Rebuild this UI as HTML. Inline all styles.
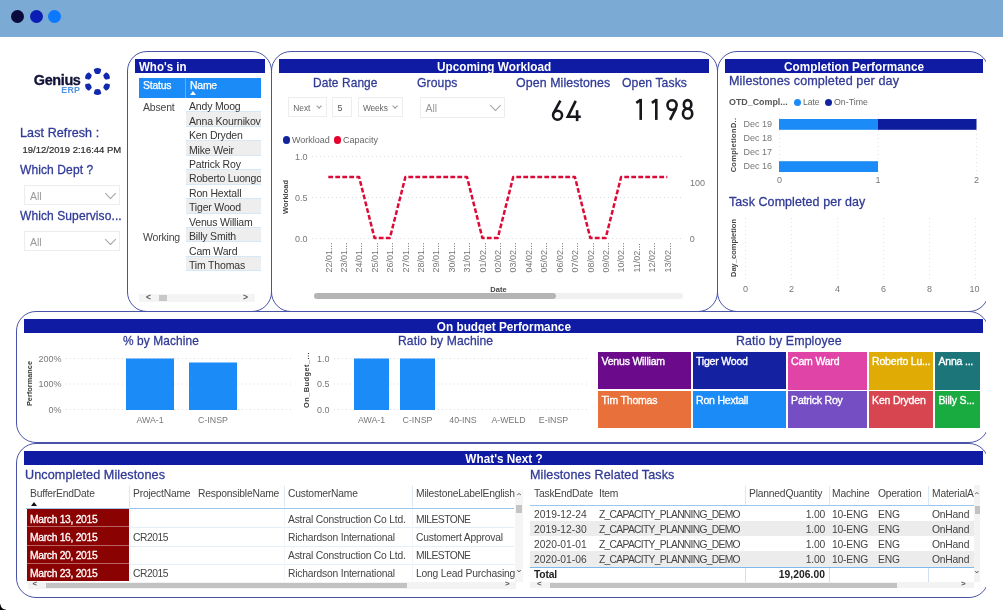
<!DOCTYPE html>
<html>
<head>
<meta charset="utf-8">
<title>Genius ERP Dashboard</title>
<style>
*{box-sizing:border-box;margin:0;padding:0}
html,body{width:1003px;height:610px;overflow:hidden;background:#fff}
body{font-family:"Liberation Sans",sans-serif;position:relative;color:#333}
.abs{position:absolute}
.t{position:absolute;white-space:nowrap;line-height:1}
#topbar{left:0;top:0;width:1003px;height:36.5px;background:#7baad4}
.dot{position:absolute;width:13px;height:13px;border-radius:50%;top:10px}
#clip{left:0;top:36px;width:986.3px;height:574px;overflow:hidden}
.panel{position:absolute;border:1.5px solid #4853a8;border-radius:20px;background:transparent}
.bar{position:absolute;background:#0e1ba2;height:14.4px;color:#fff;font-weight:bold;font-size:12.8px;line-height:16.4px;text-align:center;white-space:nowrap;overflow:hidden}
.bar span{display:inline-block;transform:scaleX(.92);transform-origin:50% 50%}
.h{position:absolute;white-space:nowrap;line-height:1;color:#303a96;font-size:13.4px;letter-spacing:.1px;-webkit-text-stroke:.3px #303a96;transform:scaleX(.9);transform-origin:0 0}
.sel{position:absolute;border:1px solid #ededed;background:#fff}
.sel span{position:absolute;left:6px;top:5.5px;font-size:10.5px;color:#999;line-height:1}
.chev{position:absolute;width:7px;height:7px;border-right:1.1px solid #a8a8a8;border-bottom:1.1px solid #a8a8a8;transform:rotate(45deg) scale(1.15,1.15)}
.wr{left:186px;width:75px;height:14.45px;border-bottom:1px solid #d6e7f6}
.wr span{position:absolute;left:3px;top:2.2px;width:72px;height:13px;overflow:hidden;font-size:10.5px;letter-spacing:-.18px;line-height:13px;color:#333;white-space:nowrap}
.num{color:#1a1a1a;transform:scaleX(.86);transform-origin:0 0;letter-spacing:1.2px;-webkit-text-stroke:.35px #1a1a1a}
.chev.s{width:4.2px;height:4.2px;transform:rotate(45deg);border-width:1px;border-color:#999}
.tm{position:absolute;overflow:hidden}
.tm span{position:absolute;left:3.5px;top:4px;font-size:10.5px;line-height:1;color:#fff;white-space:nowrap;letter-spacing:-.2px;-webkit-text-stroke:.35px #fff}
.c{font-size:10.3px;color:#444;letter-spacing:-.2px}
</style>
</head>
<body>
<div id="topbar" class="abs">
  <div class="dot" style="left:11px;background:#0a0a3c"></div>
  <div class="dot" style="left:30px;background:#0a1eb4"></div>
  <div class="dot" style="left:48px;background:#0a78ff"></div>
</div>

<!-- SIDEBAR -->
<div id="sidebar" style="will-change:transform">
  <div class="t" style="left:33.8px;top:72.7px;font-size:14.4px;font-weight:bold;color:#12123a;letter-spacing:-.35px;-webkit-text-stroke:.35px #12123a">Genius</div>
  <div class="t" style="left:61.3px;top:86px;font-size:8.8px;font-weight:bold;color:#4f93e4;letter-spacing:.3px">ERP</div>
  <svg class="abs" style="left:83.9px;top:67.6px" width="27" height="27" viewBox="-13.5 -13.5 27 27">
    <g fill="#1129ae" stroke="#1129ae" stroke-width="1.9" stroke-linejoin="round">
      <path d="M-2.7 -11.6 Q0 -13.4 2.7 -11.6 L1.9 -8.9 Q0 -7.9 -1.9 -8.9 Z"/>
      <path d="M-2.7 -11.6 Q0 -13.4 2.7 -11.6 L1.9 -8.9 Q0 -7.9 -1.9 -8.9 Z" transform="rotate(60)"/>
      <path d="M-2.7 -11.6 Q0 -13.4 2.7 -11.6 L1.9 -8.9 Q0 -7.9 -1.9 -8.9 Z" transform="rotate(120)"/>
      <path d="M-2.7 -11.6 Q0 -13.4 2.7 -11.6 L1.9 -8.9 Q0 -7.9 -1.9 -8.9 Z" transform="rotate(180)"/>
      <path d="M-2.7 -11.6 Q0 -13.4 2.7 -11.6 L1.9 -8.9 Q0 -7.9 -1.9 -8.9 Z" transform="rotate(240)"/>
      <path d="M-2.7 -11.6 Q0 -13.4 2.7 -11.6 L1.9 -8.9 Q0 -7.9 -1.9 -8.9 Z" transform="rotate(300)"/>
    </g>
  </svg>
  <div class="h" style="left:20px;top:126px;transform:scaleX(0.936)">Last Refresh :</div>
  <div class="t" style="left:22.5px;top:144.8px;font-size:9.5px;color:#2c2c2c;-webkit-text-stroke:.2px #2c2c2c">19/12/2019 2:16:44 PM</div>
  <div class="h" style="left:20px;top:163px;transform:scaleX(0.899)">Which Dept ?</div>
  <div class="sel" style="left:24px;top:184.5px;width:95.5px;height:20.5px"><span style="left:5px">All</span><div class="chev" style="left:82px;top:4px"></div></div>
  <div class="h" style="left:20px;top:209px;transform:scaleX(0.897)">Which Superviso...</div>
  <div class="sel" style="left:24px;top:230.5px;width:95.5px;height:20.5px"><span style="left:5px">All</span><div class="chev" style="left:82px;top:4px"></div></div>
</div>

<div class="abs" style="left:0;top:604px;width:6px;height:6px;background:radial-gradient(circle at 100% 0,transparent 5.2px,#000 6px)"></div>
<div id="clip" class="abs">
<div id="inner" class="abs" style="left:0;top:-36px;width:1003px;height:610px;will-change:transform">
  <!-- PANELS -->
  <div class="panel" style="left:126.8px;top:51px;width:145.2px;height:260.5px"></div>
  <div class="panel" style="left:271.2px;top:51px;width:446.5px;height:260.5px"></div>
  <div class="panel" style="left:717px;top:51px;width:272px;height:260.5px"></div>
  <div class="panel" style="left:16px;top:311px;width:973px;height:132px"></div>
  <div class="panel" style="left:16px;top:443.3px;width:973px;height:154.5px"></div>

  <div class="bar" style="left:135px;top:59px;width:129.5px;text-align:left;padding-left:4px"><span style="transform-origin:0 50%;transform:scaleX(.9)">Who's in</span></div>
  <div class="bar" style="left:279px;top:59px;width:430px"><span>Upcoming Workload</span></div>
  <div class="bar" style="left:725px;top:59px;width:258.2px"><span>Completion Performance</span></div>
  <div class="bar" style="left:24px;top:318.5px;width:959.2px"><span>On budget Performance</span></div>
  <div class="bar" style="left:24px;top:451px;width:959.2px"><span>What's Next ?</span></div>

<div id="whosin">
<div class="abs" style="left:139px;top:78px;width:122px;height:19.5px;background:#1b8cf7"></div>
<div class="abs" style="left:185px;top:78px;width:1px;height:19.5px;background:#5fb0ff"></div>
<div class="t" style="left:143px;top:80.5px;font-size:10.4px;color:#fff;letter-spacing:-.2px;-webkit-text-stroke:.25px #fff">Status</div>
<div class="t" style="left:190px;top:80.5px;font-size:10.4px;color:#fff;letter-spacing:-.2px;-webkit-text-stroke:.25px #fff">Name</div>
<div class="abs" style="left:190px;top:91px;width:0;height:0;border-left:3.5px solid transparent;border-right:3.5px solid transparent;border-bottom:4px solid #fff"></div>
<div class="abs wr" style="top:98.00px;background:#fff"><span>Andy Moog</span></div>
<div class="abs wr" style="top:112.45px;background:#eeeeee"><span>Anna Kournikov</span></div>
<div class="abs wr" style="top:126.90px;background:#fff"><span>Ken Dryden</span></div>
<div class="abs wr" style="top:141.35px;background:#eeeeee"><span>Mike Weir</span></div>
<div class="abs wr" style="top:155.80px;background:#fff"><span>Patrick Roy</span></div>
<div class="abs wr" style="top:170.25px;background:#eeeeee"><span>Roberto Luongo</span></div>
<div class="abs wr" style="top:184.70px;background:#fff"><span>Ron Hextall</span></div>
<div class="abs wr" style="top:199.15px;background:#eeeeee"><span>Tiger Wood</span></div>
<div class="abs wr" style="top:213.60px;background:#fff"><span>Venus William</span></div>
<div class="abs wr" style="top:228.05px;background:#eeeeee"><span>Billy Smith</span></div>
<div class="abs wr" style="top:242.50px;background:#fff"><span>Cam Ward</span></div>
<div class="abs wr" style="top:256.95px;background:#eeeeee"><span>Tim Thomas</span></div>
<div class="t" style="left:143px;top:102px;font-size:10.5px;color:#444;letter-spacing:-.2px">Absent</div>
<div class="t" style="left:143px;top:232.0px;font-size:10.5px;color:#444;letter-spacing:-.2px">Working</div>
<div class="abs" style="left:139px;top:294.2px;width:116px;height:7.5px;background:#f4f4f4"></div>
<div class="abs" style="left:159.3px;top:295px;width:7.6px;height:6px;background:#c8c8c8"></div>
<div class="t" style="left:146px;top:293.3px;font-size:8.5px;color:#555;font-weight:bold">&lt;</div>
<div class="t" style="left:243px;top:293.3px;font-size:8.5px;color:#555;font-weight:bold">&gt;</div>
</div>
<div id="workload">
<div class="h" style="left:313px;top:76px;transform:scaleX(0.891)">Date Range</div>
<div class="h" style="left:417px;top:76px;transform:scaleX(0.908)">Groups</div>
<div class="h" style="left:516px;top:76px;transform:scaleX(0.924)">Open Milestones</div>
<div class="h" style="left:622px;top:76px;transform:scaleX(0.910)">Open Tasks</div>
<div class="sel" style="left:288px;top:97px;width:39px;height:20px"><span style="left:4.2px;top:5.5px;font-size:8.4px;color:#666">Next</span><div class="chev s" style="left:27.5px;top:5.5px"></div></div>
<div class="sel" style="left:332px;top:97px;width:20px;height:20px"><span style="left:4.5px;top:5.5px;font-size:8.8px;color:#555">5</span></div>
<div class="sel" style="left:358px;top:97px;width:45px;height:20px"><span style="left:4px;top:5.5px;font-size:8.4px;color:#666;letter-spacing:-.15px">Weeks</span><div class="chev s" style="left:33.5px;top:5.5px"></div></div>
<div class="sel" style="left:420px;top:97px;width:85px;height:21px"><span style="left:4.5px;top:5px">All</span><div class="chev" style="left:71px;top:4px"></div></div>
<svg class="abs" style="left:0;top:0" width="1003" height="610" viewBox="0 0 1003 610" fill="none" stroke="#17171c" stroke-width="2.6">
<!-- 64 -->
<circle cx="557.55" cy="115.25" r="4.5"/>
<path d="M560.4 100.6 L553.55 113.2"/>
<path d="M575.7 100.9 L567.8 116.8 L580.8 116.8" stroke-linejoin="miter"/>
<path d="M577.1 110.2 L577.1 121.1"/>
<!-- 1198 -->
<path d="M636.3 102.8 L640.7 99.9"/><path d="M640.7 98.9 L640.7 119.9"/>
<path d="M651.9 102.8 L656.3 99.9"/><path d="M656.3 98.9 L656.3 119.9"/>
<ellipse cx="672.05" cy="105.1" rx="4.6" ry="4.85"/>
<path d="M676.25 107.9 L670.1 119.9"/>
<ellipse cx="687.6" cy="104.45" rx="3.75" ry="4.3"/>
<ellipse cx="687.6" cy="113.65" rx="4.65" ry="4.9"/>
</svg>
<div class="abs" style="left:282.5px;top:136px;width:7.8px;height:7.8px;border-radius:50%;background:#12239e"></div>
<div class="t" style="left:292px;top:136px;font-size:9px;color:#666">Workload</div>
<div class="abs" style="left:333.5px;top:136px;width:7.8px;height:7.8px;border-radius:50%;background:#e6002e"></div>
<div class="t" style="left:343px;top:136px;font-size:9px;color:#666">Capacity</div>
<svg class="abs" style="left:0;top:0" width="1003" height="610" viewBox="0 0 1003 610">
<line x1="312" y1="156.5" x2="682" y2="156.5" stroke="#dcdcdc" stroke-width="1" stroke-dasharray="1 3"/>
<line x1="312" y1="197.5" x2="682" y2="197.5" stroke="#dcdcdc" stroke-width="1" stroke-dasharray="1 3"/>
<line x1="312" y1="238.5" x2="682" y2="238.5" stroke="#dcdcdc" stroke-width="1" stroke-dasharray="1 3"/>
<polyline points="328.3,177 343.7,177 359.1,177 374.5,238 389.9,238 405.4,177 420.8,177 436.2,177 451.6,177 467.0,177 482.4,238 497.8,238 513.2,177 528.6,177 544.0,177 559.5,177 574.9,177 590.3,238 605.7,238 621.1,177 636.5,177 651.9,177 667.3,177" fill="none" stroke="#dc0a37" stroke-width="2.5" stroke-dasharray="4.8 2.2" stroke-linejoin="round"/>
<text transform="translate(331.5,272.6) rotate(-90)" font-size="9" fill="#777" font-family="Liberation Sans">22/01...</text>
<text transform="translate(346.9,272.6) rotate(-90)" font-size="9" fill="#777" font-family="Liberation Sans">23/01...</text>
<text transform="translate(362.3,272.6) rotate(-90)" font-size="9" fill="#777" font-family="Liberation Sans">24/01...</text>
<text transform="translate(377.7,272.6) rotate(-90)" font-size="9" fill="#777" font-family="Liberation Sans">25/01...</text>
<text transform="translate(393.1,272.6) rotate(-90)" font-size="9" fill="#777" font-family="Liberation Sans">26/01...</text>
<text transform="translate(408.6,272.6) rotate(-90)" font-size="9" fill="#777" font-family="Liberation Sans">27/01...</text>
<text transform="translate(424.0,272.6) rotate(-90)" font-size="9" fill="#777" font-family="Liberation Sans">28/01...</text>
<text transform="translate(439.4,272.6) rotate(-90)" font-size="9" fill="#777" font-family="Liberation Sans">29/01...</text>
<text transform="translate(454.8,272.6) rotate(-90)" font-size="9" fill="#777" font-family="Liberation Sans">30/01...</text>
<text transform="translate(470.2,272.6) rotate(-90)" font-size="9" fill="#777" font-family="Liberation Sans">31/01...</text>
<text transform="translate(485.6,272.6) rotate(-90)" font-size="9" fill="#777" font-family="Liberation Sans">01/02...</text>
<text transform="translate(501.0,272.6) rotate(-90)" font-size="9" fill="#777" font-family="Liberation Sans">02/02...</text>
<text transform="translate(516.4,272.6) rotate(-90)" font-size="9" fill="#777" font-family="Liberation Sans">03/02...</text>
<text transform="translate(531.8,272.6) rotate(-90)" font-size="9" fill="#777" font-family="Liberation Sans">04/02...</text>
<text transform="translate(547.2,272.6) rotate(-90)" font-size="9" fill="#777" font-family="Liberation Sans">05/02...</text>
<text transform="translate(562.7,272.6) rotate(-90)" font-size="9" fill="#777" font-family="Liberation Sans">06/02...</text>
<text transform="translate(578.1,272.6) rotate(-90)" font-size="9" fill="#777" font-family="Liberation Sans">07/02...</text>
<text transform="translate(593.5,272.6) rotate(-90)" font-size="9" fill="#777" font-family="Liberation Sans">08/02...</text>
<text transform="translate(608.9,272.6) rotate(-90)" font-size="9" fill="#777" font-family="Liberation Sans">09/02...</text>
<text transform="translate(624.3,272.6) rotate(-90)" font-size="9" fill="#777" font-family="Liberation Sans">10/02...</text>
<text transform="translate(639.7,272.6) rotate(-90)" font-size="9" fill="#777" font-family="Liberation Sans">11/02...</text>
<text transform="translate(655.1,272.6) rotate(-90)" font-size="9" fill="#777" font-family="Liberation Sans">12/02...</text>
<text transform="translate(670.5,272.6) rotate(-90)" font-size="9" fill="#777" font-family="Liberation Sans">13/02...</text>
<text transform="translate(288.2,197) rotate(-90)" text-anchor="middle" font-size="7.5" fill="#444" font-family="Liberation Sans" font-weight="bold">Workload</text>
<text x="307.5" y="160" text-anchor="end" font-size="9" fill="#777" font-family="Liberation Sans">1.0</text>
<text x="307.5" y="201" text-anchor="end" font-size="9" fill="#777" font-family="Liberation Sans">0.5</text>
<text x="307.5" y="242" text-anchor="end" font-size="9" fill="#777" font-family="Liberation Sans">0.0</text>
<text x="690" y="186" font-size="9" fill="#777" font-family="Liberation Sans">100</text>
<text x="689.7" y="241.5" font-size="9" fill="#777" font-family="Liberation Sans">0</text>
<text x="498.5" y="291.5" text-anchor="middle" font-size="7.5" fill="#444" font-family="Liberation Sans" font-weight="bold">Date</text>
</svg>
<div class="abs" style="left:314px;top:292.5px;width:369px;height:6px;border-radius:3px;background:#f0f0f0"></div>
<div class="abs" style="left:314px;top:292.5px;width:242px;height:6px;border-radius:3px;background:#b5b5b5"></div>
</div>
<div id="completion">
<div class="h" style="left:729px;top:74px;transform:scaleX(0.941)">Milestones completed per day</div>
<div class="t" style="left:729px;top:98px;font-size:8.9px;color:#555;font-weight:bold">OTD_Compl...</div>
<div class="abs" style="left:794px;top:98.5px;width:7px;height:7px;border-radius:50%;background:#1b8cf7"></div>
<div class="t" style="left:803px;top:98px;font-size:8.5px;color:#666">Late</div>
<div class="abs" style="left:825px;top:98.5px;width:7px;height:7px;border-radius:50%;background:#12239e"></div>
<div class="t" style="left:834px;top:98px;font-size:8.8px;color:#666">On-Time</div>
<svg class="abs" style="left:0;top:0" width="1003" height="610" viewBox="0 0 1003 610">
<line x1="779.5" y1="114" x2="779.5" y2="176" stroke="#e4e4e4" stroke-width="1" stroke-dasharray="1 3"/>
<line x1="878" y1="114" x2="878" y2="176" stroke="#e4e4e4" stroke-width="1" stroke-dasharray="1 3"/>
<line x1="976.5" y1="114" x2="976.5" y2="176" stroke="#e4e4e4" stroke-width="1" stroke-dasharray="1 3"/>
<rect x="779" y="119" width="99" height="10.8" fill="#1b8cf7"/>
<rect x="878" y="119" width="98.5" height="10.8" fill="#0c1c9c"/>
<rect x="779" y="161.2" width="99" height="10.8" fill="#1b8cf7"/>
<text x="772" y="126.7" text-anchor="end" font-size="9" fill="#777" font-family="Liberation Sans">Dec 19</text>
<text x="772" y="140.7" text-anchor="end" font-size="9" fill="#777" font-family="Liberation Sans">Dec 18</text>
<text x="772" y="154.7" text-anchor="end" font-size="9" fill="#777" font-family="Liberation Sans">Dec 17</text>
<text x="772" y="168.7" text-anchor="end" font-size="9" fill="#777" font-family="Liberation Sans">Dec 16</text>
<text x="779.5" y="183.2" text-anchor="middle" font-size="9" fill="#777" font-family="Liberation Sans">0</text>
<text x="878" y="183.2" text-anchor="middle" font-size="9" fill="#777" font-family="Liberation Sans">1</text>
<text x="976.5" y="183.2" text-anchor="middle" font-size="9" fill="#777" font-family="Liberation Sans">2</text>
<text transform="translate(735.8,145) rotate(-90)" text-anchor="middle" font-size="7.5" fill="#444" font-family="Liberation Sans" font-weight="bold" letter-spacing=".3">CompletionD..</text>
<line x1="745.5" y1="218" x2="745.5" y2="280" stroke="#e4e4e4" stroke-width="1" stroke-dasharray="1 3"/>
<line x1="791.5" y1="218" x2="791.5" y2="280" stroke="#e4e4e4" stroke-width="1" stroke-dasharray="1 3"/>
<line x1="837.5" y1="218" x2="837.5" y2="280" stroke="#e4e4e4" stroke-width="1" stroke-dasharray="1 3"/>
<line x1="883.5" y1="218" x2="883.5" y2="280" stroke="#e4e4e4" stroke-width="1" stroke-dasharray="1 3"/>
<line x1="929.5" y1="218" x2="929.5" y2="280" stroke="#e4e4e4" stroke-width="1" stroke-dasharray="1 3"/>
<line x1="975.5" y1="218" x2="975.5" y2="280" stroke="#e4e4e4" stroke-width="1" stroke-dasharray="1 3"/>
<text x="745.5" y="291.7" text-anchor="middle" font-size="9" fill="#777" font-family="Liberation Sans">0</text>
<text x="791.5" y="291.7" text-anchor="middle" font-size="9" fill="#777" font-family="Liberation Sans">2</text>
<text x="837.5" y="291.7" text-anchor="middle" font-size="9" fill="#777" font-family="Liberation Sans">4</text>
<text x="883.5" y="291.7" text-anchor="middle" font-size="9" fill="#777" font-family="Liberation Sans">6</text>
<text x="929.5" y="291.7" text-anchor="middle" font-size="9" fill="#777" font-family="Liberation Sans">8</text>
<text x="974.5" y="291.7" text-anchor="middle" font-size="9" fill="#777" font-family="Liberation Sans">10</text>
<text transform="translate(735.5,248) rotate(-90)" text-anchor="middle" font-size="7.5" fill="#444" font-family="Liberation Sans" font-weight="bold">Day_completion</text>
</svg>
<div class="h" style="left:729px;top:195px;transform:scaleX(0.930)">Task Completed per day</div>
</div>
<div id="budget">
<div class="h" style="left:123px;top:334px;transform:scaleX(0.889)">% by Machine</div>
<div class="h" style="left:398px;top:334px;transform:scaleX(0.906)">Ratio by Machine</div>
<div class="h" style="left:736px;top:334px;transform:scaleX(0.927)">Ratio by Employee</div>
<svg class="abs" style="left:0;top:0" width="1003" height="610" viewBox="0 0 1003 610">
<line x1="66" y1="358.5" x2="294" y2="358.5" stroke="#dcdcdc" stroke-width="1" stroke-dasharray="1 3"/>
<line x1="334" y1="358.5" x2="588" y2="358.5" stroke="#dcdcdc" stroke-width="1" stroke-dasharray="1 3"/>
<line x1="66" y1="384" x2="294" y2="384" stroke="#dcdcdc" stroke-width="1" stroke-dasharray="1 3"/>
<line x1="334" y1="384" x2="588" y2="384" stroke="#dcdcdc" stroke-width="1" stroke-dasharray="1 3"/>
<line x1="66" y1="409.5" x2="294" y2="409.5" stroke="#dcdcdc" stroke-width="1" stroke-dasharray="1 3"/>
<line x1="334" y1="409.5" x2="588" y2="409.5" stroke="#dcdcdc" stroke-width="1" stroke-dasharray="1 3"/>
<rect x="126" y="358.5" width="48" height="51.5" fill="#1b8cf7"/>
<rect x="189" y="362.5" width="48" height="47.5" fill="#1b8cf7"/>
<rect x="354" y="358.5" width="35" height="51.5" fill="#1b8cf7"/>
<rect x="400" y="358.5" width="35" height="51.5" fill="#1b8cf7"/>
<text x="61.5" y="361.5" text-anchor="end" font-size="9" fill="#777" font-family="Liberation Sans">200%</text>
<text x="61.5" y="387" text-anchor="end" font-size="9" fill="#777" font-family="Liberation Sans">100%</text>
<text x="61.5" y="412.5" text-anchor="end" font-size="9" fill="#777" font-family="Liberation Sans">0%</text>
<text x="329.5" y="361.5" text-anchor="end" font-size="9" fill="#777" font-family="Liberation Sans">1.0</text>
<text x="329.5" y="387" text-anchor="end" font-size="9" fill="#777" font-family="Liberation Sans">0.5</text>
<text x="329.5" y="412.5" text-anchor="end" font-size="9" fill="#777" font-family="Liberation Sans">0.0</text>
<text x="150" y="422.5" text-anchor="middle" font-size="8.8" fill="#777" font-family="Liberation Sans">AWA-1</text>
<text x="213" y="422.5" text-anchor="middle" font-size="8.8" fill="#777" font-family="Liberation Sans">C-INSP</text>
<text x="371.5" y="422.5" text-anchor="middle" font-size="8.8" fill="#777" font-family="Liberation Sans">AWA-1</text>
<text x="417.5" y="422.5" text-anchor="middle" font-size="8.8" fill="#777" font-family="Liberation Sans">C-INSP</text>
<text x="463" y="422.5" text-anchor="middle" font-size="8.8" fill="#777" font-family="Liberation Sans">40-INS</text>
<text x="508.5" y="422.5" text-anchor="middle" font-size="8.8" fill="#777" font-family="Liberation Sans">A-WELD</text>
<text x="553.5" y="422.5" text-anchor="middle" font-size="8.8" fill="#777" font-family="Liberation Sans">E-INSP</text>
<text transform="translate(31.6,383.5) rotate(-90)" text-anchor="middle" font-size="7.4" fill="#3a3a3a" font-family="Liberation Sans" font-weight="bold">Performance</text>
<text transform="translate(309,380) rotate(-90)" text-anchor="middle" font-size="7.4" fill="#3a3a3a" font-family="Liberation Sans" font-weight="bold" letter-spacing=".45">On_Budget_...</text>
</svg>
<div class="tm" style="left:598px;top:351.5px;width:92.9px;height:37.6px;background:#6b0b8c"><span>Venus William</span></div>
<div class="tm" style="left:598px;top:390.9px;width:92.9px;height:37.1px;background:#e8703a"><span>Tim Thomas</span></div>
<div class="tm" style="left:692.5px;top:351.5px;width:93.5px;height:37.6px;background:#1422a2"><span>Tiger Wood</span></div>
<div class="tm" style="left:692.5px;top:390.9px;width:93.5px;height:37.1px;background:#1b8cf7"><span>Ron Hextall</span></div>
<div class="tm" style="left:787.6px;top:351.5px;width:79.4px;height:38px;background:#e044a7"><span>Cam Ward</span></div>
<div class="tm" style="left:787.6px;top:391.4px;width:79.4px;height:36.6px;background:#744ec2"><span>Patrick Roy</span></div>
<div class="tm" style="left:868.6px;top:351.5px;width:64.8px;height:38px;background:#dfab04"><span>Roberto Lu...</span></div>
<div class="tm" style="left:868.6px;top:391.4px;width:64.8px;height:36.6px;background:#d64550"><span>Ken Dryden</span></div>
<div class="tm" style="left:935px;top:351.5px;width:45.2px;height:38px;background:#1c7679"><span>Anna ...</span></div>
<div class="tm" style="left:935px;top:391.4px;width:45.2px;height:36.6px;background:#1aab40"><span>Billy S...</span></div>
</div>
<div id="next">
<div class="h" style="left:25px;top:468px;transform:scaleX(0.941)">Uncompleted Milestones</div>
<div class="h" style="left:530px;top:468px;transform:scaleX(0.938)">Milestones Related Tasks</div>
<div class="t c" style="left:30px;top:489px;">BufferEndDate</div>
<div class="t c" style="left:133px;top:489px;">ProjectName</div>
<div class="t c" style="left:198px;top:489px;">ResponsibleName</div>
<div class="t c" style="left:288px;top:489px;">CustomerName</div>
<div class="t c" style="left:416px;top:489px;">MilestoneLabelEnglish</div>
<div class="abs" style="left:30.5px;top:501.5px;width:0;height:0;border-left:3.5px solid transparent;border-right:3.5px solid transparent;border-bottom:4px solid #111"></div>
<div class="abs" style="left:129px;top:486px;width:1px;height:21px;background:#dbe9f6"></div>
<div class="abs" style="left:284px;top:486px;width:1px;height:21px;background:#dbe9f6"></div>
<div class="abs" style="left:411.5px;top:486px;width:1px;height:21px;background:#dbe9f6"></div>
<div class="abs" style="left:26px;top:507.5px;width:488px;height:1.2px;background:#9cc7ec"></div>
<div class="abs" style="left:26.7px;top:509.30px;width:102px;height:18.13px;background:#8a0202;border-bottom:.8px solid #b86464"></div>
<div class="abs" style="left:26px;top:527.4px;width:488px;height:1px;background:#e6eef6"></div>
<div class="t c" style="left:30px;top:514.9px;color:#fff;-webkit-text-stroke:.3px #fff;letter-spacing:-.3px">March 13, 2015</div>
<div class="t c" style="left:288px;top:514.9px;">Astral Construction Co Ltd.</div>
<div class="t c" style="left:416px;top:514.9px;;letter-spacing:-.55px">MILESTONE</div>
<div class="abs" style="left:26.7px;top:527.43px;width:102px;height:18.13px;background:#8a0202;border-bottom:.8px solid #b86464"></div>
<div class="abs" style="left:26px;top:545.5px;width:488px;height:1px;background:#e6eef6"></div>
<div class="t c" style="left:30px;top:533.0px;color:#fff;-webkit-text-stroke:.3px #fff;letter-spacing:-.3px">March 16, 2015</div>
<div class="t c" style="left:133px;top:533.0px;letter-spacing:-.45px">CR2015</div>
<div class="t c" style="left:288px;top:533.0px;">Richardson International</div>
<div class="t c" style="left:416px;top:533.0px;">Customert Approval</div>
<div class="abs" style="left:26.7px;top:545.56px;width:102px;height:18.13px;background:#8a0202;border-bottom:.8px solid #b86464"></div>
<div class="abs" style="left:26px;top:563.6px;width:488px;height:1px;background:#e6eef6"></div>
<div class="t c" style="left:30px;top:551.1px;color:#fff;-webkit-text-stroke:.3px #fff;letter-spacing:-.3px">March 20, 2015</div>
<div class="t c" style="left:288px;top:551.1px;">Astral Construction Co Ltd.</div>
<div class="t c" style="left:416px;top:551.1px;;letter-spacing:-.55px">MILESTONE</div>
<div class="abs" style="left:26.7px;top:563.69px;width:102px;height:17.5px;background:#8a0202"></div>
<div class="abs" style="left:26px;top:581.7px;width:488px;height:1px;background:#e6eef6"></div>
<div class="t c" style="left:30px;top:569.2px;color:#fff;-webkit-text-stroke:.3px #fff;letter-spacing:-.3px">March 23, 2015</div>
<div class="t c" style="left:133px;top:569.2px;letter-spacing:-.45px">CR2015</div>
<div class="t c" style="left:288px;top:569.2px;">Richardson International</div>
<div class="t c" style="left:416px;top:569.2px;">Long Lead Purchasing</div>
<div class="abs" style="left:129.5px;top:509px;width:1px;height:72px;background:#f2f5f9"></div>
<div class="abs" style="left:284px;top:509px;width:1px;height:72px;background:#f2f5f9"></div>
<div class="abs" style="left:411.5px;top:509px;width:1px;height:72px;background:#f2f5f9"></div>
<div class="abs" style="left:515px;top:490px;width:8px;height:92px;background:#f5f5f5"></div>
<div class="abs" style="left:516px;top:505px;width:6px;height:8px;background:#c4c4c4"></div>
<div class="t" style="left:515.5px;top:493px;font-size:8px;color:#555;transform:scaleX(1.2)">&#x2303;</div>
<div class="t" style="left:515.5px;top:566px;font-size:8px;color:#555;transform:scaleX(1.2)">&#x2304;</div>
<div class="abs" style="left:28px;top:582px;width:488px;height:6.5px;background:#f3f3f3"></div>
<div class="abs" style="left:46px;top:582.5px;width:361px;height:5.5px;background:#c2c2c2"></div>
<div class="t" style="left:32.5px;top:580.3px;font-size:8px;color:#555;font-weight:bold">&lt;</div>
<div class="t" style="left:505px;top:580.3px;font-size:8px;color:#555;font-weight:bold">&gt;</div>
<div class="t c" style="left:534px;top:489px;">TaskEndDate</div>
<div class="t c" style="left:599px;top:489px;">Item</div>
<div class="t c" style="left:749px;top:489px;">PlannedQuantity</div>
<div class="t c" style="left:832px;top:489px;">Machine</div>
<div class="t c" style="left:878px;top:489px;">Operation</div>
<div class="t c" style="left:932px;top:489px;width:41.5px;overflow:hidden">MaterialAvail</div>
<div class="abs" style="left:745px;top:486px;width:1px;height:20px;background:#dbe9f6"></div>
<div class="abs" style="left:828.5px;top:486px;width:1px;height:20px;background:#dbe9f6"></div>
<div class="abs" style="left:927.5px;top:486px;width:1px;height:20px;background:#dbe9f6"></div>
<div class="abs" style="left:530px;top:505.2px;width:443.5px;height:1.2px;background:#9cc7ec"></div>
<div class="t c" style="left:534px;top:509.5px;letter-spacing:0">2019-12-24</div>
<div class="t c" style="left:599px;top:509.5px;letter-spacing:-.7px">Z_CAPACITY_PLANNING_DEMO</div>
<div class="t c" style="right:178px;top:509.5px">1.00</div>
<div class="t c" style="left:832px;top:509.5px;">10-ENG</div>
<div class="t c" style="left:878px;top:509.5px;">ENG</div>
<div class="t c" style="left:932px;top:509.5px;">OnHand</div>
<div class="abs" style="left:530px;top:520.9px;width:443.5px;height:15.3px;background:#ececec"></div>
<div class="t c" style="left:534px;top:524.8px;letter-spacing:0">2019-12-30</div>
<div class="t c" style="left:599px;top:524.8px;letter-spacing:-.7px">Z_CAPACITY_PLANNING_DEMO</div>
<div class="t c" style="right:178px;top:524.8px">1.00</div>
<div class="t c" style="left:832px;top:524.8px;">10-ENG</div>
<div class="t c" style="left:878px;top:524.8px;">ENG</div>
<div class="t c" style="left:932px;top:524.8px;">OnHand</div>
<div class="t c" style="left:534px;top:540.0px;letter-spacing:0">2020-01-01</div>
<div class="t c" style="left:599px;top:540.0px;letter-spacing:-.7px">Z_CAPACITY_PLANNING_DEMO</div>
<div class="t c" style="right:178px;top:540.0px">1.00</div>
<div class="t c" style="left:832px;top:540.0px;">10-ENG</div>
<div class="t c" style="left:878px;top:540.0px;">ENG</div>
<div class="t c" style="left:932px;top:540.0px;">OnHand</div>
<div class="abs" style="left:530px;top:551.4px;width:443.5px;height:15.3px;background:#ececec"></div>
<div class="t c" style="left:534px;top:555.2px;letter-spacing:0">2020-01-06</div>
<div class="t c" style="left:599px;top:555.2px;letter-spacing:-.7px">Z_CAPACITY_PLANNING_DEMO</div>
<div class="t c" style="right:178px;top:555.2px">1.00</div>
<div class="t c" style="left:832px;top:555.2px;">10-ENG</div>
<div class="t c" style="left:878px;top:555.2px;">ENG</div>
<div class="t c" style="left:932px;top:555.2px;">OnHand</div>
<div class="abs" style="left:530px;top:566.6px;width:443.5px;height:1.2px;background:#7fb8ea"></div>
<div class="t c" style="left:534px;top:570.3px;font-weight:bold;color:#222">Total</div>
<div class="t c" style="right:178px;top:570.3px;font-weight:bold;color:#222;letter-spacing:.05px">19,206.00</div>
<div class="abs" style="left:745px;top:567.6px;width:1px;height:14px;background:#cfe0f0"></div>
<div class="abs" style="left:828.5px;top:567.6px;width:1px;height:14px;background:#cfe0f0"></div>
<div class="abs" style="left:927.5px;top:567.6px;width:1px;height:14px;background:#cfe0f0"></div>
<div class="abs" style="left:973.7px;top:485px;width:6.8px;height:97px;background:#f3f3f3"></div>
<div class="abs" style="left:974.5px;top:505.6px;width:5.4px;height:8px;background:#c2c2c2"></div>
<div class="t" style="left:974px;top:492px;font-size:8px;color:#555;transform:scaleX(1.15)">&#x2303;</div>
<div class="t" style="left:974px;top:566.5px;font-size:8px;color:#555;transform:scaleX(1.15)">&#x2304;</div>
<div class="abs" style="left:530px;top:582.2px;width:443.5px;height:6px;background:#f3f3f3"></div>
<div class="abs" style="left:550px;top:582.5px;width:346.8px;height:5.4px;background:#c2c2c2"></div>
<div class="t" style="left:537px;top:580.4px;font-size:8px;color:#555;font-weight:bold">&lt;</div>
<div class="t" style="left:961px;top:580.4px;font-size:8px;color:#555;font-weight:bold">&gt;</div>
</div>
</div>
</div>
</body>
</html>
